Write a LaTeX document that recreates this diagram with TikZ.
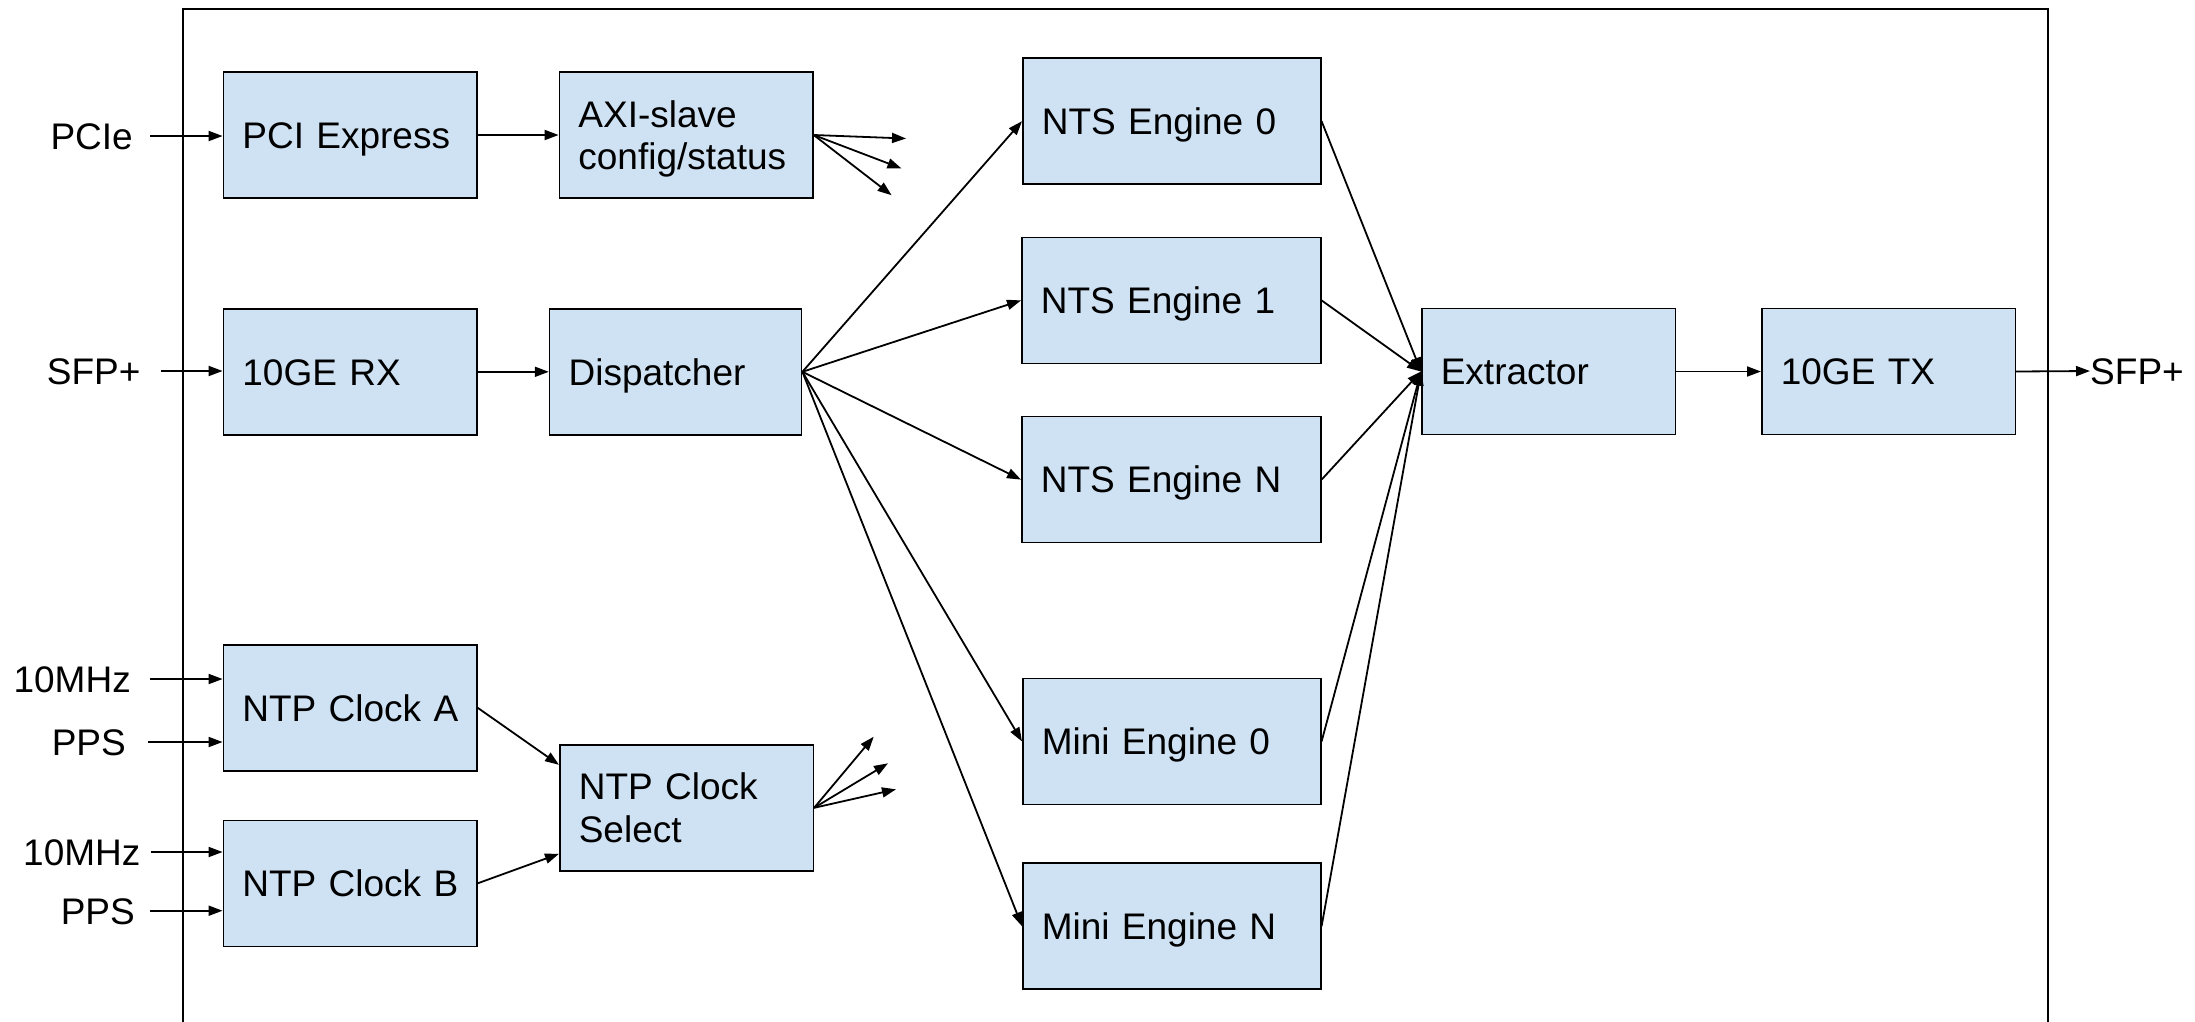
\documentclass[tikz,border=0pt]{standalone}
\usepackage{fontspec}
\setmainfont{Liberation Sans}
\usetikzlibrary{arrows.meta,calc}
\definecolor{boxblue}{HTML}{CFE2F3}

\begin{document}
\begin{tikzpicture}[x=1pt,y=-1pt,
  font=\fontsize{37}{42.5}\selectfont,
  blk/.style={draw=black, line width=1.6pt, fill=boxblue, minimum height=126pt,
    inner xsep=19pt, inner ysep=0pt, align=left, text width=#1,
    text height=26.6pt, text depth=0pt, anchor=north west},
  blk/.default=215.5pt,
  twoline/.style={text depth=42.5pt},
  arr/.style={line width=1.8pt, -{Triangle[length=14pt,width=10pt]}},
  inlbl/.style={inner sep=0pt, anchor=east, text height=26.6pt, text depth=0pt},
  outlbl/.style={inner sep=0pt, anchor=west, text height=26.6pt, text depth=0pt},
]
\useasboundingbox (0,0) rectangle (2195,1021);

% enclosing board outline (open at the bottom)
\draw[line width=2pt] (183,1030) -- (183,9) -- (2048,9) -- (2048,1030);

% blocks
\node[blk] (pcie) at (222.6,71.2) {\mbox{PCI Express}};
\node[blk, twoline] (axi) at (558.6,71.2) {AXI-slave\\config/status};
\node[blk] (rx) at (222.6,308) {10GE RX};
\node[blk=214pt] (disp) at (548.8,308) {Dispatcher};
\node[blk] (clka) at (222.6,644) {\mbox{NTP Clock A}};
\node[blk] (clkb) at (222.6,819.5) {\mbox{NTP Clock B}};
\node[blk, twoline] (sel) at (559,744) {NTP Clock\\Select};
\node[blk=260pt] (nts0) at (1022,57.4) {\mbox{NTS Engine 0}};
\node[blk=261pt] (nts1) at (1021,236.6) {\mbox{NTS Engine 1}};
\node[blk=261pt] (ntsn) at (1021,415.8) {\mbox{NTS Engine N}};
\node[blk=260pt] (mini0) at (1022,677.6) {\mbox{Mini Engine 0}};
\node[blk=260pt] (minin) at (1022,862.4) {\mbox{Mini Engine N}};
\node[blk] (ext) at (1421,307.7) {Extractor};
\node[blk] (tx) at (1761,307.7) {10GE TX};

% external signal labels
\node[inlbl] (pciein) at (133,136) {PCIe};
\node[inlbl] (sfpin) at (140.6,371) {SFP+};
\node[inlbl] (mhza) at (131,679) {10MHz};
\node[inlbl] (ppsa) at (126,742) {PPS};
\node[inlbl] (mhzb) at (140.6,852) {10MHz};
\node[inlbl] (ppsb) at (135,910.7) {PPS};
\node[outlbl] (sfpout) at (2090,371) {SFP+};

% inputs
\draw[arr] ([xshift=17pt]pciein.east) -- (pciein.east -| pcie.west);
\draw[arr] ([xshift=20pt]sfpin.east) -- (sfpin.east -| rx.west);
\draw[arr] ([xshift=19pt]mhza.east) -- (mhza.east -| clka.west);
\draw[arr] ([xshift=22pt]ppsa.east) -- (ppsa.east -| clka.west);
\draw[arr] ([xshift=10pt]mhzb.east) -- (mhzb.east -| clkb.west);
\draw[arr] ([xshift=15pt]ppsb.east) -- (ppsb.east -| clkb.west);

% main data path
\draw[arr] (pcie.east) -- (axi.west);
\draw[arr] (rx.east) -- (disp.west);
\draw[arr] (ext.east) -- (tx.west);
\draw[arr] (tx.east) -- (sfpout.west);

% dispatcher fan-out
\foreach \e in {nts0,nts1,ntsn,mini0,minin}
  \draw[arr] (disp.east) -- (\e.west);

% engines into the extractor
\foreach \e in {nts0,nts1,ntsn,mini0,minin}
  \draw[arr] (\e.east) -- (ext.west);

% configuration / status outputs
\coordinate (cfg1) at (906,138.5);
\coordinate (cfg2) at (901.4,168.4);
\coordinate (cfg3) at (891.6,195.2);
\foreach \c in {cfg1,cfg2,cfg3}
  \draw[arr] (axi.east) -- (\c);

% clock selection
\draw[arr] (clka.east) -- ([yshift=43pt]sel.west);
\draw[arr] (clkb.east) -- ([yshift=-46pt]sel.west);
\coordinate (clk1) at (873.7,736.7);
\coordinate (clk2) at (888,763.3);
\coordinate (clk3) at (896,789.3);
\foreach \c in {clk1,clk2,clk3}
  \draw[arr] (sel.east) -- (\c);
\end{tikzpicture}
\end{document}
